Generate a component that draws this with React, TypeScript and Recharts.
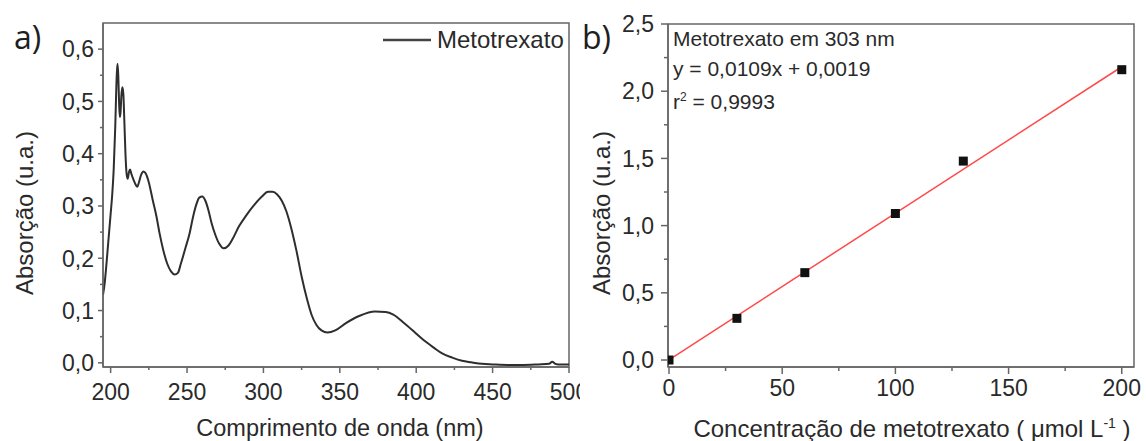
import React from 'react';
import { LineChart, Line, XAxis, YAxis, ReferenceArea, ComposedChart, Scatter, Legend } from 'recharts';

// ---------- data: panel a (UV spectrum) ----------
const spectrumNm = [195, 196, 197, 198, 199, 200, 201, 202, 203, 204, 204.5, 205, 205.5, 206, 206.5, 207, 207.7, 208.3, 209, 209.7, 210.5, 211.2, 212, 212.7, 213.5, 215, 216.5, 217.5, 218.5, 220, 221.5, 223, 225, 227.5, 230, 232, 234.5, 237, 239.5, 242, 244, 246, 249, 251.7, 254, 256, 258, 260, 262, 264, 266, 268.5, 271, 274, 277, 280, 284, 289, 294, 299, 303, 306, 309, 312, 315, 318, 321.5, 325, 328.6, 331.5, 334.6, 338, 342, 347, 354, 363, 373, 380, 385, 392, 399.5, 405, 411.5, 417, 423.6, 430, 436, 443, 450, 460, 470, 480, 487, 489, 491, 493, 500];
const spectrumAbs = [0.13, 0.15, 0.18, 0.215, 0.25, 0.285, 0.32, 0.37, 0.45, 0.55, 0.572, 0.55, 0.5, 0.47, 0.48, 0.51, 0.527, 0.515, 0.46, 0.4, 0.36, 0.352, 0.365, 0.37, 0.362, 0.35, 0.34, 0.337, 0.345, 0.36, 0.366, 0.362, 0.345, 0.312, 0.28, 0.248, 0.215, 0.19, 0.175, 0.169, 0.172, 0.19, 0.22, 0.248, 0.28, 0.302, 0.316, 0.318, 0.31, 0.292, 0.268, 0.245, 0.228, 0.219, 0.224, 0.238, 0.261, 0.283, 0.302, 0.318, 0.327, 0.327, 0.322, 0.31, 0.29, 0.26, 0.216, 0.165, 0.121, 0.092, 0.073, 0.062, 0.058, 0.062, 0.076, 0.09, 0.098, 0.097, 0.092, 0.076, 0.057, 0.043, 0.029, 0.018, 0.01, 0.004, 0.001, -0.002, -0.003, -0.004, -0.004, -0.003, -0.002, 0.002, -0.002, -0.003, -0.003];
const spectrumData = spectrumNm.map((nm, i) => ({ nm, abs: spectrumAbs[i] }));

const aXMajor = [200, 250, 300, 350, 400, 450, 500];
const aXMinor = [225, 275, 325, 375, 425, 475];
const aYMajor = [0, 0.1, 0.2, 0.3, 0.4, 0.5, 0.6];
const aYMinor = [0.05, 0.15, 0.25, 0.35, 0.45, 0.55];
const aXDomain = [195, 500];
const aYDomain = [-0.008, 0.65];

// ---------- data: panel b (calibration) ----------
const concentrations = [0, 30, 60, 100, 130, 200];
const absorbances = [0.0, 0.31, 0.65, 1.09, 1.48, 2.16];
const calibData = concentrations.map((x, i) => ({ x, y: absorbances[i] }));
const fitX = [0, 200];
const fitY = [0.0019, 2.1819];
const fitData = fitX.map((x, i) => ({ x, y: fitY[i] }));

const bXMajor = [0, 50, 100, 150, 200];
const bXMinor = [25, 75, 125, 175];
const bYMajor = [0, 0.5, 1.0, 1.5, 2.0, 2.5];
const bYMinor = [0.25, 0.75, 1.25, 1.75, 2.25];
const bXDomain = [-0.44, 205.4];
const bYDomain = [-0.052, 2.5];

const FONT = '"Liberation Sans", Arial, sans-serif';
const TEXT = '#2a2a2a';
const AXIS = '#666666';
const TICK_FS = 23;

const fmt1 = (v: number) => v.toFixed(1).replace('.', ',');

function makeXTick(majors: number[], labelOffset: number, majorLen: number, minorLen: number) {
  return (props: any) => {
    const { x, y, payload } = props;
    const isMajor = majors.some((m) => Math.abs(m - payload.value) < 1e-9);
    return (
      <g>
        <line x1={x} y1={y} x2={x} y2={y + (isMajor ? majorLen : minorLen)} stroke={AXIS} strokeWidth={1.5} />
        {isMajor && (
          <text x={x} y={y + labelOffset} dy="0.36em" textAnchor="middle" fontFamily={FONT} fontSize={TICK_FS} fill={TEXT}>
            {String(payload.value)}
          </text>
        )}
      </g>
    );
  };
}

function makeYTick(majors: number[], labelGap: number, majorLen: number, minorLen: number) {
  return (props: any) => {
    const { x, y, payload } = props;
    const isMajor = majors.some((m) => Math.abs(m - payload.value) < 1e-9);
    return (
      <g>
        <line x1={x} y1={y} x2={x - (isMajor ? majorLen : minorLen)} y2={y} stroke={AXIS} strokeWidth={1.5} />
        {isMajor && (
          <text x={x - labelGap} y={y} dy="0.36em" textAnchor="end" fontFamily={FONT} fontSize={TICK_FS} fill={TEXT}>
            {fmt1(payload.value)}
          </text>
        )}
      </g>
    );
  };
}

const LegendContent = () => (
  <div style={{ display: 'flex', alignItems: 'center', fontFamily: FONT, fontSize: 24, color: TEXT, whiteSpace: 'nowrap' }}>
    <svg width={48} height={10} style={{ marginRight: 6 }}>
      <line x1={0} y1={5} x2={48} y2={5} stroke="#444" strokeWidth={2.5} />
    </svg>
    <span>Metotrexato</span>
  </div>
);

const Square = (props: any) => {
  const { cx, cy } = props;
  if (cx == null || cy == null) return null;
  return <rect x={cx - 4.5} y={cy - 4.5} width={9} height={9} fill="#111" />;
};

const abs: React.CSSProperties = { position: 'absolute', fontFamily: FONT, color: TEXT, whiteSpace: 'nowrap' };

export default function App() {
  return (
    <div style={{ position: 'absolute', left: 0, top: 0, width: 1146, height: 441, background: '#fff', overflow: 'hidden' }}>
      {/* Panel a */}
      <div style={{ position: 'absolute', left: 0, top: 0 }}>
        <LineChart width={580} height={441} data={spectrumData} margin={{ top: 23, right: 11, bottom: 34, left: 43 }}>
          <XAxis
            dataKey="nm"
            type="number"
            domain={aXDomain}
            ticks={[...aXMajor, ...aXMinor].sort((a, b) => a - b)}
            interval={0}
            allowDataOverflow
            height={40}
            tickSize={0}
            tickMargin={0}
            tickLine={false}
            axisLine={{ stroke: AXIS, strokeWidth: 1.5 }}
            tick={makeXTick(aXMajor, 25, 6, 3)}
          />
          <YAxis
            type="number"
            domain={aYDomain}
            ticks={[...aYMajor, ...aYMinor].sort((a, b) => a - b)}
            interval={0}
            allowDataOverflow
            width={60}
            tickSize={0}
            tickMargin={0}
            tickLine={false}
            axisLine={{ stroke: AXIS, strokeWidth: 1.5 }}
            tick={makeYTick(aYMajor, 9, 5, 3)}
          />
          <ReferenceArea x1={aXDomain[0]} x2={aXDomain[1]} y1={aYDomain[0]} y2={aYDomain[1]} fill="none" fillOpacity={0} stroke={AXIS} strokeWidth={1.5} ifOverflow="visible" />
          <Line type="monotone" dataKey="abs" stroke="#2e2e2e" strokeWidth={2} dot={false} isAnimationActive={false} name="Metotrexato" />
          <Legend layout="vertical" align="center" verticalAlign="middle" wrapperStyle={{ top: 26, left: 383, width: 195 }} content={<LegendContent />} />
        </LineChart>
      </div>

      {/* Panel b */}
      <div style={{ position: 'absolute', left: 580, top: 0 }}>
        <ComposedChart width={566} height={441} margin={{ top: 24, right: 12, bottom: 34, left: 28 }}>
          <XAxis
            dataKey="x"
            type="number"
            domain={bXDomain}
            ticks={[...bXMajor, ...bXMinor].sort((a, b) => a - b)}
            interval={0}
            allowDataOverflow
            height={40}
            tickSize={0}
            tickMargin={0}
            tickLine={false}
            axisLine={{ stroke: AXIS, strokeWidth: 1.5 }}
            tick={makeXTick(bXMajor, 21, 7, 4)}
          />
          <YAxis
            type="number"
            domain={bYDomain}
            ticks={[...bYMajor, ...bYMinor].sort((a, b) => a - b)}
            interval={0}
            allowDataOverflow
            width={60}
            tickSize={0}
            tickMargin={0}
            tickLine={false}
            axisLine={{ stroke: AXIS, strokeWidth: 1.5 }}
            tick={makeYTick(bYMajor, 14, 7, 4)}
          />
          <ReferenceArea x1={bXDomain[0]} x2={bXDomain[1]} y1={bYDomain[0]} y2={bYDomain[1]} fill="none" fillOpacity={0} stroke={AXIS} strokeWidth={1.5} ifOverflow="visible" />
          <Line data={fitData} type="linear" dataKey="y" stroke="#ff4a4a" strokeWidth={1.5} dot={false} isAnimationActive={false} />
          <Scatter data={calibData} dataKey="y" shape={<Square />} isAnimationActive={false} />
        </ComposedChart>
      </div>

      {/* Panel labels */}
      <div style={{ ...abs, left: 14, top: 17, fontSize: 32, fontFamily: '"Open Sans", sans-serif', color: '#1e1e1e', lineHeight: '40px' }}>a)</div>
      <div style={{ ...abs, left: 582, top: 17, fontSize: 32, fontFamily: '"Open Sans", sans-serif', color: '#1e1e1e', lineHeight: '40px' }}>b)</div>

      {/* Axis titles panel a */}
      <div style={{ ...abs, left: 340, top: 428, fontSize: 23.5, transform: 'translate(-50%, -50%)' }}>Comprimento de onda (nm)</div>
      <div style={{ ...abs, left: 25, top: 213, fontSize: 24, transform: 'translate(-50%, -50%) rotate(-90deg)' }}>Absorção (u.a.)</div>

      {/* Axis titles panel b */}
      <div style={{ ...abs, left: 912, top: 429, fontSize: 24, transform: 'translate(-50%, -50%)' }}>
        Concentração de metotrexato ( μmol L<sup style={{ fontSize: 14 }}>-1</sup> )
      </div>
      <div style={{ ...abs, left: 602, top: 213, fontSize: 24, transform: 'translate(-50%, -50%) rotate(-90deg)' }}>Absorção (u.a.)</div>

      {/* Annotation panel b */}
      <div style={{ ...abs, left: 673, top: 24, fontSize: 21, lineHeight: '29.5px' }}>
        <div>Metotrexato em 303 nm</div>
        <div>y = 0,0109x + 0,0019</div>
        <div>r<sup style={{ fontSize: 12 }}>2</sup> = 0,9993</div>
      </div>
    </div>
  );
}
